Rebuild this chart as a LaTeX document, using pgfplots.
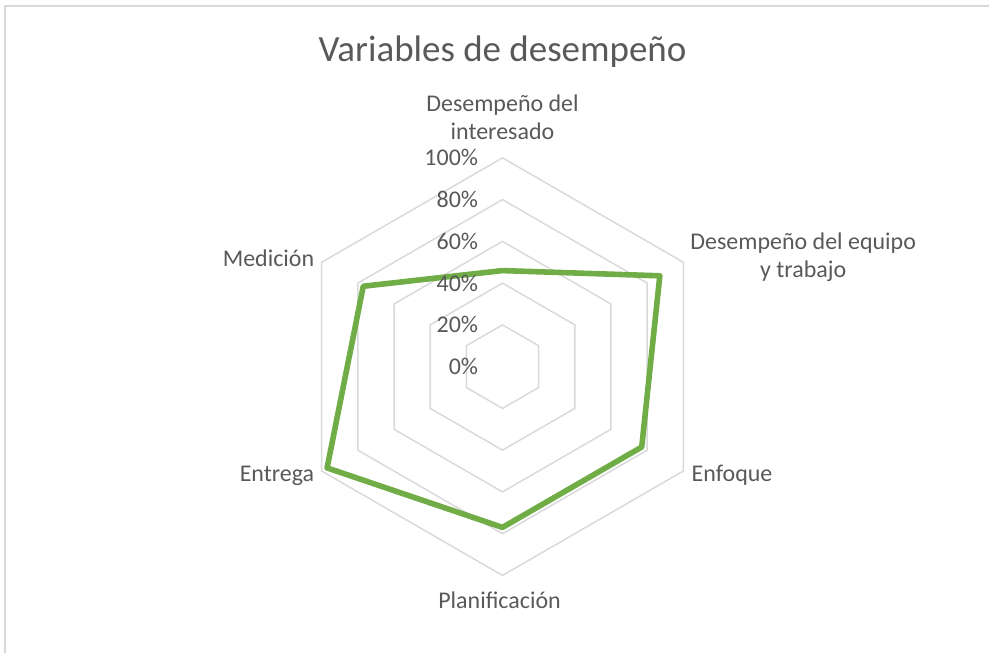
\documentclass[border=0pt]{standalone}
\usepackage{pgfplots}
\pgfplotsset{compat=1.18}
\usepackage{fontspec}
\setmainfont{Carlito}
\definecolor{txt}{HTML}{595959}
\definecolor{gridc}{HTML}{D9D9D9}
\definecolor{grn}{HTML}{70AD47}
\begin{document}
\begin{tikzpicture}
\begin{axis}[scale only axis, width=495pt, height=327pt,
  xmin=-240.67, xmax=233.01, ymin=-137.32, ymax=175.60,
  hide axis, clip=false]
\path (rel axis cs:0,0) rectangle (rel axis cs:1,1);
\draw[gridc, line width=1pt] (rel axis cs:0.0051,0) -- (rel axis cs:0.0051,0.9908) -- (rel axis cs:1,0.9908);
% hexagonal grid
\addplot[gridc, line width=0.75pt, data cs=polar, mark=none] coordinates {(90,20) (30,20) (-30,20) (-90,20) (-150,20) (150,20) (90,20)};
\addplot[gridc, line width=0.75pt, data cs=polar, mark=none] coordinates {(90,40) (30,40) (-30,40) (-90,40) (-150,40) (150,40) (90,40)};
\addplot[gridc, line width=0.75pt, data cs=polar, mark=none] coordinates {(90,60) (30,60) (-30,60) (-90,60) (-150,60) (150,60) (90,60)};
\addplot[gridc, line width=0.75pt, data cs=polar, mark=none] coordinates {(90,80) (30,80) (-30,80) (-90,80) (-150,80) (150,80) (90,80)};
\addplot[gridc, line width=0.75pt, data cs=polar, mark=none] coordinates {(90,100) (30,100) (-30,100) (-90,100) (-150,100) (150,100) (90,100)};
% data
\addplot[grn, line width=2.8pt, line join=round, data cs=polar, mark=none] coordinates {(90,46) (30,87) (-30,77) (-90,77) (-150,97) (150,77) (90,46)};
% tick labels
\node[anchor=east, inner sep=0pt, text=txt, font=\fontsize{12}{14}\selectfont] at (axis cs:-11.5,0) {0\%};
\node[anchor=east, inner sep=0pt, text=txt, font=\fontsize{12}{14}\selectfont] at (axis cs:-11.5,20) {20\%};
\node[anchor=east, inner sep=0pt, text=txt, font=\fontsize{12}{14}\selectfont] at (axis cs:-11.5,40) {40\%};
\node[anchor=east, inner sep=0pt, text=txt, font=\fontsize{12}{14}\selectfont] at (axis cs:-11.5,60) {60\%};
\node[anchor=east, inner sep=0pt, text=txt, font=\fontsize{12}{14}\selectfont] at (axis cs:-11.5,80) {80\%};
\node[anchor=east, inner sep=0pt, text=txt, font=\fontsize{12}{14}\selectfont] at (axis cs:-11.5,100) {100\%};
% category labels
\node[align=center, text=txt, font=\fontsize{12}{14}\selectfont, inner sep=0pt] at (axis cs:0,119.6) {Desempeño del\\interesado};
\node[align=center, text=txt, font=\fontsize{12}{14}\selectfont, inner sep=0pt] at (axis cs:144.0,52.6) {Desempeño del equipo\\y trabajo};
\node[anchor=west, text=txt, font=\fontsize{12}{14}\selectfont, inner sep=0pt] at (axis cs:90.4,-52.2) {Enfoque};
\node[text=txt, font=\fontsize{12}{14}\selectfont, inner sep=0pt] at (axis cs:-1.4,-112.0) {Planificación};
\node[anchor=east, text=txt, font=\fontsize{12}{14}\selectfont, inner sep=0pt] at (axis cs:-90.0,-52.2) {Entrega};
\node[anchor=east, text=txt, font=\fontsize{12}{14}\selectfont, inner sep=0pt] at (axis cs:-90.0,51.7) {Medición};
% title
\node[text=txt, font=\fontsize{18.5}{22}\selectfont, inner sep=0pt] at (axis cs:0,150.7) {Variables de desempeño};
\end{axis}
\end{tikzpicture}
\end{document}
